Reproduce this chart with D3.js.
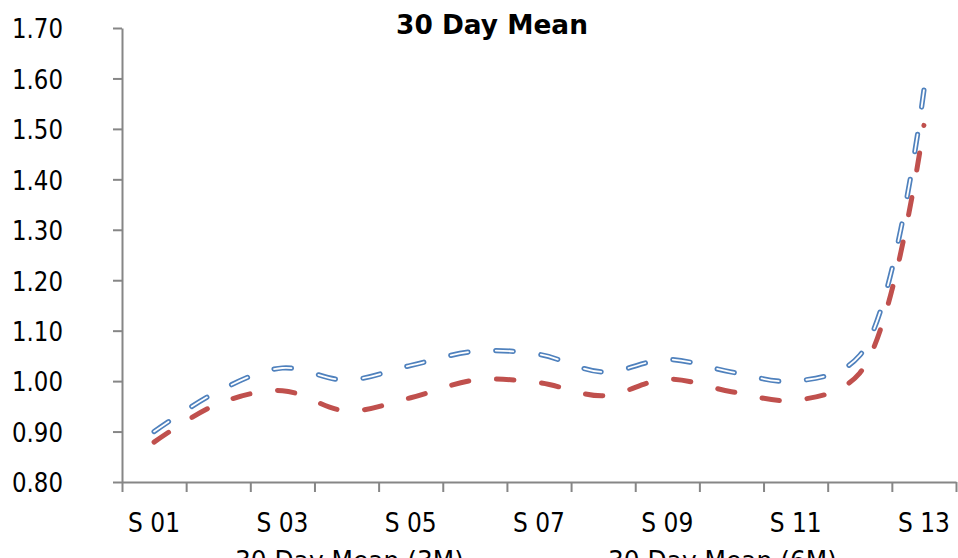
<!DOCTYPE html>
<html>
<head>
<meta charset="utf-8">
<script src="https://cdn.jsdelivr.net/npm/d3@7"></script>
<style>
  html, body { margin: 0; padding: 0; background: #ffffff; overflow: hidden; }
  svg { display: block; }
  text { font-family: "DejaVu Sans", Verdana, sans-serif; fill: #000; }
</style>
</head>
<body>
<svg id="chart" width="958" height="558"></svg>
<script>
// ---- data ----
const categories = ["S 01","S 02","S 03","S 04","S 05","S 06","S 07","S 08","S 09","S 10","S 11","S 12","S 13"];
const mean3M = [0.900, 0.980, 1.026, 1.002, 1.031, 1.059, 1.053, 1.018, 1.043, 1.018, 1.000, 1.051, 1.577];
const mean6M = [0.879, 0.955, 0.981, 0.941, 0.967, 1.002, 0.997, 0.971, 1.004, 0.979, 0.962, 1.016, 1.507];
const yTicks = [0.80, 0.90, 1.00, 1.10, 1.20, 1.30, 1.40, 1.50, 1.60, 1.70];
const seriesNames = ["30 Day Mean (3M)", "30 Day Mean (6M)"];
const chartTitle = "30 Day Mean";

(function () {
// ---- layout ----
const svg = d3.select("#chart");
const pLeft = 122, pRight = 956, pTop = 28, pBottom = 482;
const axisColor = "#868686";
const blue = "#4F81BD", red = "#C0504D";
const dashLen = 17.5, dashPeriod = 45;

const x = d3.scaleBand().domain(categories).range([pLeft, pRight]).paddingInner(0).paddingOuter(0);
const xEdge = d3.scaleLinear().domain([0, categories.length]).range([pLeft, pRight]);
const y = d3.scaleLinear().domain([0.80, 1.70]).range([pBottom, pTop]);

function fitWidth(sel, target) {
  sel.each(function () {
    const w = this.getComputedTextLength();
    const s = w > 0 ? target / w : 1;
    const t = d3.select(this).attr("data-base") || "";
    d3.select(this).attr("transform", t + " scale(" + s + ",1)");
  });
}

// ---- title ----
const tt = svg.append("text")
  .attr("data-base", "translate(492,33.5)")
  .attr("text-anchor", "middle")
  .attr("font-size", 27)
  .attr("font-weight", "bold")
  .text(chartTitle);
fitWidth(tt, 192);

// ---- y axis ----
const yAxis = svg.append("g")
  .attr("transform", `translate(${pLeft},0)`)
  .call(d3.axisLeft(y).tickValues(yTicks).tickFormat(d3.format(".2f")).tickSize(9).tickSizeOuter(0));
yAxis.select(".domain").attr("stroke", axisColor).attr("stroke-width", 2);
yAxis.selectAll(".tick line").attr("stroke", axisColor).attr("stroke-width", 2);
yAxis.selectAll(".tick text")
  .attr("x", 0).attr("dy", "0.38em")
  .attr("font-size", 26)
  .attr("fill", "#000")
  .attr("font-family", "DejaVu Sans, Verdana, sans-serif")
  .attr("text-anchor", "end");
{
  const ref = yAxis.selectAll(".tick text").filter(d => Math.abs(d - 1.7) < 1e-6).node();
  const w = ref.getComputedTextLength();
  const s = w > 0 ? 51 / w : 1;
  yAxis.selectAll(".tick text").attr("transform", `translate(-59,0) scale(${s},1)`);
}

// ---- x axis: boundary ticks ----
const xTickAxis = svg.append("g")
  .attr("transform", `translate(0,${pBottom})`)
  .call(d3.axisBottom(xEdge).tickValues(d3.range(categories.length + 1)).tickSize(10).tickSizeOuter(0).tickFormat(""));
xTickAxis.select(".domain").attr("stroke", axisColor).attr("stroke-width", 2);
xTickAxis.selectAll(".tick line").attr("stroke", axisColor).attr("stroke-width", 2);

// ---- x axis: labels ----
const xLabAxis = svg.append("g")
  .attr("transform", `translate(0,${pBottom})`)
  .call(d3.axisBottom(x).tickValues(categories.filter((d, i) => i % 2 === 0)).tickSize(0));
xLabAxis.select(".domain").remove();
xLabAxis.selectAll(".tick text")
  .attr("y", 0).attr("dy", 0)
  .attr("font-size", 26)
  .attr("font-family", "DejaVu Sans, Verdana, sans-serif")
  .attr("fill", "#000");
{
  const ref = xLabAxis.selectAll(".tick text").filter(d => d === "S 01").node();
  const w = ref.getComputedTextLength();
  const s = w > 0 ? 52 / w : 1;
  xLabAxis.selectAll(".tick text").attr("transform", `translate(0,50) scale(${s},1)`);
}

// ---- lines ----
const cx = d => x(d) + x.bandwidth() / 2;
const line = d3.line()
  .x(d => cx(d.c))
  .y(d => y(d.v))
  .curve(d3.curveCatmullRom.alpha(0.5));

const d3M = categories.map((c, i) => ({ c, v: mean3M[i] }));
const d6M = categories.map((c, i) => ({ c, v: mean6M[i] }));

// dash pattern fitted to path length so the pattern ends as in the reference
function fittedDash(node, endPhase) {
  const L = node.getTotalLength();
  const n = Math.max(1, Math.round((L - endPhase) / dashPeriod));
  const P = (L - endPhase) / n;
  return `${dashLen},${P - dashLen}`;
}

const blueOuter = svg.append("path").datum(d3M)
  .attr("d", line).attr("fill", "none")
  .attr("stroke", blue).attr("stroke-width", 5.2)
  .attr("stroke-linecap", "round").attr("stroke-linejoin", "round");
const blueDash = fittedDash(blueOuter.node(), dashLen);
blueOuter.attr("stroke-dasharray", blueDash);
svg.append("path").datum(d3M)
  .attr("d", line).attr("fill", "none")
  .attr("stroke", "#ffffff").attr("stroke-width", 1.8)
  .attr("stroke-linecap", "round").attr("stroke-linejoin", "round")
  .attr("stroke-dasharray", blueDash);

const redPath = svg.append("path").datum(d6M)
  .attr("d", line).attr("fill", "none")
  .attr("stroke", red).attr("stroke-width", 5)
  .attr("stroke-linecap", "round").attr("stroke-linejoin", "round");
redPath.attr("stroke-dasharray", fittedDash(redPath.node(), 0.5));

// ---- legend (mostly cut off at bottom, as in the reference) ----
const legendItems = [
  { name: seriesNames[0], color: blue, tx: 235 },
  { name: seriesNames[1], color: red, tx: 608 }
];
const lg = svg.append("g");
legendItems.forEach(it => {
  lg.append("line")
    .attr("x1", it.tx - 50).attr("x2", it.tx - 8)
    .attr("y1", 562).attr("y2", 562)
    .attr("stroke", it.color).attr("stroke-width", 5)
    .attr("stroke-linecap", "round").attr("stroke-dasharray", "17.5,27.5");
  const t = lg.append("text")
    .attr("data-base", `translate(${it.tx},570)`)
    .attr("font-size", 26)
    .text(it.name);
  fitWidth(t, 229);
});
})();
</script>
</body>
</html>
